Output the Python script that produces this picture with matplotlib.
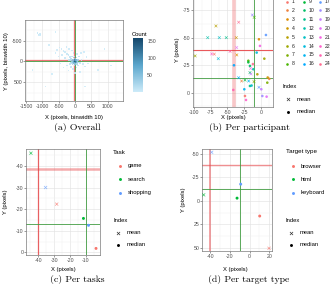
import numpy as np
import matplotlib
matplotlib.use("Agg")
import matplotlib.pyplot as plt
from matplotlib.colors import LinearSegmentedColormap
from matplotlib.ticker import MultipleLocator

plt.rcParams['font.family'] = ['Liberation Sans', 'DejaVu Sans']
plt.rcParams['axes.unicode_minus'] = False

# overall mean / median offsets (pixels)
MEAN_X, MEAN_Y = -40, -38.5
MEDIAN_X, MEDIAN_Y = -10, -13

# (a) overall 2D histogram, bins of 10 px: centre x, centre y, count
bin_x = [0, -20, 20, -40, 10, -10, 40, -60, 30, -30, 60, -70, 0, 0, 80, -90,
         -120, 100, -80, 70, -50, 40, -130, 120, -10, -20, -160, -100,
         -120, -150, -200, -250, -300, -350, -420, -480, -550, -400, -300, -200,
         -160, -250, -120, -60, 40, 100, 150, 200, 250, 300, 120, 60, -40, -100,
         -180, -260, 180, -500, -600, -450, -350, -200, 0, 150, 350, 400, 280,
         -1150, -1120, -1080, -1100, -1060,
         -800, -700, 500, 700, -1300, 900, -900, 300, 1100, -600]
bin_y = [0, 10, -10, -10, 30, -40, 20, 20, -40, 40, -20, -30, 60, -70, 10, 10,
         -20, -30, 60, 60, -90, -90, 40, 30, 100, -120, -40, -120,
         -60, -100, -150, -180, -220, -250, -300, -330, -280, -150, -80, -40,
         60, 100, 140, 180, 150, 100, 40, -30, 60, 120, -120, -180, -200, -260,
         -300, -350, -200, -120, -200, 50, 150, 220, 280, 250, -100, 50, -220,
         -680, -650, -660, -620, -640,
         -400, 300, -500, 200, 200, -300, 600, 600, 100, -700]
bin_n = [150, 135, 120, 110, 100, 105, 80, 75, 70, 65, 55, 50, 45, 48, 35, 38,
         40, 35, 30, 28, 32, 25, 22, 18, 20, 24, 18, 16,
         20, 14, 10, 8, 6, 5, 4, 3, 2, 5, 7, 12,
         10, 6, 8, 6, 9, 12, 10, 7, 5, 3, 11, 8, 9, 6,
         4, 3, 4, 3, 2, 3, 3, 3, 3, 2, 2, 2, 2,
         6, 8, 5, 4, 3,
         1, 1, 1, 1, 1, 1, 1, 1, 1, 1]

# (b) per participant
participants = list(range(1, 25))
p_mean_x = [-69.5, -28.8, -36, -36.7, -67, -98, -10.3, -10, -23.8, -16.4, -51.6, -79.3,
            -62, -63.5, -18.3, -33.2, -3, -12.9, -14.9, -36.2, -15.4, -73.4, -46, -33.2]
p_mean_y = [-35, -10.6, -34.3, -50, -60.6, -33.4, -10, -68.5, -11.5, -18.2, -50, -50,
            -50, -30.9, -10.6, -13.6, -4.9, -70.6, -17, -41, -22, -35.2, -37.5, -64]
p_med_x = [-23.8, 12.4, -3, 10, -5.4, 5, 9.4, -18.8, -18.8, -16.4, -16.4, -11.4,
           -14, -6.4, -24.8, -40.2, 7.4, 2, 0.5, 8.4, -1.5, -22.3, -41.2, -12]
p_med_y = [3, -12.6, -48.5, -13.8, -16.7, -30.9, -9.1, -29, -27.6, -24.3, -6.1, -21.3,
           -6.5, -36.4, -3.1, -24.9, -52.4, 3, -3.1, 3.6, -42.5, 6.6, -2.5, -26]

# (c) per task
tasks = ['game', 'search', 'shopping']
t_mean_x = [-28.4, -44.6, -35.4]
t_mean_y = [-22.3, -45.9, -30]
t_med_x = [-3.7, -11.6, -8.4]
t_med_y = [-1.8, -15.7, -12.5]

# (d) per target type
targets = ['browser', 'html', 'keyboard']
g_mean_x = [19.7, -46.7, -38.6]
g_mean_y = [50.6, -6.4, -51.8]
g_med_x = [10.2, -12.8, -9.1]
g_med_y = [16.2, -2.9, -17.8]


def hue_pal(n):
    # ggplot2 default hue palette (HCL, c=100, l=65)
    cols = []
    L, C = 65.0, 100.0
    Xn, Yn, Zn = 95.047, 100.0, 108.883
    un = 4 * Xn / (Xn + 15 * Yn + 3 * Zn)
    vn = 9 * Yn / (Xn + 15 * Yn + 3 * Zn)
    for i in range(n):
        h = np.radians(15 + 360.0 * i / n)
        u, v = C * np.cos(h), C * np.sin(h)
        Y = Yn * ((L + 16) / 116) ** 3
        up = u / (13 * L) + un
        vp = v / (13 * L) + vn
        X = Y * 9 * up / (4 * vp)
        Z = Y * (12 - 3 * up - 20 * vp) / (4 * vp)
        X, Y, Z = X / 100, Y / 100, Z / 100
        rgb = [3.2406 * X - 1.5372 * Y - 0.4986 * Z,
               -0.9689 * X + 1.8758 * Y + 0.0415 * Z,
               0.0557 * X - 0.2040 * Y + 1.0570 * Z]
        rgb = [12.92 * c if c <= 0.0031308 else 1.055 * c ** (1 / 2.4) - 0.055 for c in rgb]
        cols.append(tuple(min(max(c, 0), 1) for c in rgb))
    return cols


RED = '#e8474a'
GREEN = '#3f9b3f'
TICK = 3.7
LAB = 4.2
GRAY = '#4d4d4d'

fig = plt.figure(figsize=(3.32, 2.90), dpi=100)


def px_axes(x0, y0, x1, y1):
    return fig.add_axes([x0 / 332, 1 - y1 / 290, (x1 - x0) / 332, (y1 - y0) / 290])


def style(ax, major_x, major_y):
    ax.xaxis.set_major_locator(MultipleLocator(major_x))
    ax.yaxis.set_major_locator(MultipleLocator(major_y))
    ax.xaxis.set_minor_locator(MultipleLocator(major_x / 2))
    ax.yaxis.set_minor_locator(MultipleLocator(major_y / 2))
    ax.grid(which='major', color='#e3e3e3', lw=0.45)
    ax.grid(which='minor', color='#f0f0f0', lw=0.3)
    ax.set_axisbelow(True)
    ax.tick_params(which='major', length=1.2, width=0.4, pad=0.8, labelsize=TICK,
                   colors=GRAY)
    ax.tick_params(which='minor', length=0)
    for s in ax.spines.values():
        s.set_color('#7a7a7a')
        s.set_linewidth(0.5)


def ref_lines(ax, red_v=(0.9, 0.7), red_h=(0.9, 0.7)):
    ax.axvline(MEAN_X, color=RED, lw=red_v[0], alpha=red_v[1], zorder=1)
    ax.axhline(MEAN_Y, color=RED, lw=red_h[0], alpha=red_h[1], zorder=1)
    ax.axvline(MEDIAN_X, color=GREEN, lw=0.7, alpha=0.85, zorder=1)
    ax.axhline(MEDIAN_Y, color=GREEN, lw=0.7, alpha=0.85, zorder=1)


# ---- (a) overall
ax_a = px_axes(25, 20, 122.7, 101)
cmap = LinearSegmentedColormap.from_list('cnt', ['#cdebf9', '#5aa6cc', '#14466a'])
ax_a.scatter(bin_x, bin_y, c=bin_n, cmap=cmap, vmin=1, vmax=158, marker='s',
             s=1.3, linewidths=0, alpha=0.85, zorder=2)
ax_a.set_xlim(-1534, 1463)
ax_a.set_ylim(950, -995)
style(ax_a, 500, 500)
ax_a.set_xticks([-1500, -1000, -500, 0, 500, 1000])
ref_lines(ax_a, (0.9, 0.75), (0.9, 0.75))
fig.text(74 / 332, 1 - 117 / 290, 'X (pixels, binwidth 10)', ha='center', va='center', fontsize=LAB)
fig.text(7 / 332, 1 - 61 / 290, 'Y (pixels, binwidth 10)', ha='center', va='center',
         fontsize=LAB, rotation=90)

cax = px_axes(133, 38, 143, 92)
sm = plt.cm.ScalarMappable(cmap=cmap, norm=plt.Normalize(1, 158))
cb = fig.colorbar(sm, cax=cax, ticks=[50, 100, 150])
cb.outline.set_visible(False)
cax.tick_params(length=1.5, width=0.5, color='white', pad=1.5, labelsize=TICK, labelcolor=GRAY)
fig.text(132 / 332, 1 - 34 / 290, 'Count', ha='left', va='center', fontsize=LAB)

# ---- (b) per participant
pcols = hue_pal(24)
ax_b = px_axes(192.7, -2, 273, 107)
ref_lines(ax_b, (2.6, 0.3), (0.8, 0.9))
ax_b.scatter(p_mean_x, p_mean_y, c=pcols, marker='x', s=4, linewidths=0.45, alpha=0.8, zorder=3)
ax_b.scatter(p_med_x, p_med_y, c=pcols, marker='o', s=3.5, linewidths=0, alpha=0.9, zorder=3)
ax_b.set_xlim(-101.6, 17.9)
ax_b.set_ylim(13, -86)
style(ax_b, 25, 25)
fig.text(233 / 332, 1 - 117.5 / 290, 'X (pixels)', ha='center', va='center', fontsize=LAB)
fig.text(178 / 332, 1 - 50 / 290, 'Y (pixels)', ha='center', va='center', fontsize=LAB, rotation=90)

# ---- (c) per task
tcols = hue_pal(3)
ax_c = px_axes(26, 149.3, 100, 255)
ref_lines(ax_c, (0.9, 0.85), (1.8, 0.45))
ax_c.scatter(t_mean_x, t_mean_y, c=tcols, marker='x', s=5, linewidths=0.5, alpha=0.7, zorder=3)
ax_c.scatter(t_med_x, t_med_y, c=tcols, marker='o', s=4.5, linewidths=0, zorder=3)
ax_c.set_xlim(-47.7, -1.2)
ax_c.set_ylim(1.25, -47.7)
style(ax_c, 10, 10)
fig.text(63 / 332, 1 - 270 / 290, 'X (pixels)', ha='center', va='center', fontsize=LAB)
fig.text(6 / 332, 1 - 202 / 290, 'Y (pixels)', ha='center', va='center', fontsize=LAB, rotation=90)

# ---- (d) per target type
ax_d = px_axes(202, 149.3, 272, 251)
ref_lines(ax_d, (1.4, 0.5), (1.0, 0.6))
ax_d.scatter(g_mean_x, g_mean_y, c=tcols, marker='x', s=5, linewidths=0.5, alpha=0.7, zorder=3)
ax_d.scatter(g_med_x, g_med_y, c=tcols, marker='o', s=4.5, linewidths=0, zorder=3)
ax_d.set_xlim(-48.4, 22.7)
ax_d.set_ylim(53.5, -55)
style(ax_d, 20, 25)
fig.text(235 / 332, 1 - 269 / 290, 'X (pixels)', ha='center', va='center', fontsize=LAB)
fig.text(183 / 332, 1 - 200 / 290, 'Y (pixels)', ha='center', va='center', fontsize=LAB, rotation=90)

# ---- legends drawn on a pixel overlay
ov = fig.add_axes([0, 0, 1, 1])
ov.set_xlim(0, 332)
ov.set_ylim(290, 0)
ov.axis('off')
ov.patch.set_alpha(0)


def index_legend(x, y):
    ov.text(x, y, 'Index', fontsize=LAB, va='center', ha='left')
    ov.scatter([x + 5], [y + 12.7], marker='x', s=5, c='#333333', linewidths=0.5)
    ov.scatter([x + 5], [y + 25], marker='o', s=4.5, c='black', linewidths=0)
    ov.text(x + 14, y + 12.7, 'mean', fontsize=LAB, va='center')
    ov.text(x + 14, y + 25, 'median', fontsize=LAB, va='center')


def group_legend(x, y, title, labels, cols):
    ov.text(x, y, title, fontsize=LAB + 0.3, va='center', ha='left')
    for k, (lab, col) in enumerate(zip(labels, cols)):
        yy = y + 14 + 13.4 * k
        ov.scatter([x + 6.5], [yy], marker='o', s=4.5, c=[col], linewidths=0)
        ov.text(x + 15, yy, lab, fontsize=LAB, va='center')


group_legend(113, 152, 'Task', tasks, tcols)
index_legend(113, 220)
group_legend(286, 152, 'Target type', targets, tcols)
index_legend(286, 220)

for k, p in enumerate(participants):
    col, row = divmod(k, 8)
    xx = 287 + 16.5 * col
    yy = 1.5 + 8.9 * row
    ov.scatter([xx], [yy], marker='o', s=3.5, c=[pcols[k]], linewidths=0)
    ov.text(xx + 5, yy, str(p), fontsize=TICK, va='center', color='#222222')
index_legend(282.5, 86.5)

# captions
cap = dict(fontsize=7, family='cmr10', ha='center', va='center')
ov.text(77, 128, '(a) Overall', **cap)
ov.text(249, 128, '(b) Per participant', **cap)
ov.text(77, 280, '(c) Per tasks', **cap)
ov.text(249, 280, '(d) Per target type', **cap)

fig.savefig('out.png', dpi=100)
